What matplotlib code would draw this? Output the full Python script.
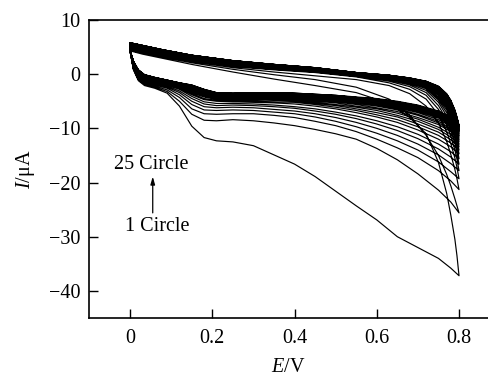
import matplotlib
matplotlib.use("Agg")
import matplotlib.pyplot as plt

plt.rcParams['font.family'] = ['Liberation Serif', 'DejaVu Serif']
plt.rcParams['mathtext.fontset'] = 'custom'
plt.rcParams['mathtext.rm'] = 'Liberation Serif'
plt.rcParams['mathtext.it'] = 'Liberation Serif:italic'

# potential grids (V)
E_fwd = [0.000, 0.008, 0.02, 0.035, 0.06, 0.09, 0.12, 0.15, 0.18, 0.21, 0.25, 0.30,
         0.35, 0.40, 0.45, 0.50, 0.55, 0.60, 0.65, 0.70, 0.75, 0.78, 0.80]
E_rev = [0.80, 0.795, 0.79, 0.78, 0.77, 0.75, 0.72, 0.68, 0.63, 0.55, 0.45, 0.35,
         0.25, 0.15, 0.08, 0.03, 0.0]

# forward-sweep currents (uA), cycles 1..25
fwd_c01 = [4.2, 0.8, -1.2, -2.1, -2.6, -3.5, -5.9, -9.6, -11.7, -12.3, -12.5, -13.2, -14.9, -16.6, -18.9, -21.6, -24.3, -26.9, -30.0, -32.0, -34.0, -35.8, -37.2]
fwd_c02 = [4.2, 0.9, -1.0, -1.9, -2.4, -3.2, -5.0, -7.4, -8.5, -8.6, -8.4, -8.6, -9.0, -9.5, -10.2, -11.0, -12.0, -13.7, -15.8, -18.4, -21.4, -23.6, -25.6]
fwd_c03 = [4.2, 1.0, -0.8, -1.7, -2.2, -2.9, -4.3, -6.4, -7.3, -7.4, -7.3, -7.3, -7.6, -8.0, -8.7, -9.5, -10.6, -12.0, -13.6, -15.4, -17.8, -19.7, -21.3]
fwd_c04 = [4.2, 1.1, -0.7, -1.5, -2.0, -2.6, -3.8, -5.6, -6.6, -6.7, -6.6, -6.7, -7.0, -7.3, -7.9, -8.7, -9.7, -10.9, -12.3, -14.0, -16.2, -18.0, -19.3]
fwd_c05 = [4.2, 1.2, -0.6, -1.4, -1.8, -2.4, -3.4, -5.0, -6.0, -6.2, -6.1, -6.2, -6.5, -6.8, -7.3, -8.0, -8.9, -10.0, -11.3, -12.9, -14.9, -16.5, -17.8]
fwd_c06 = [4.2, 1.3, -0.5, -1.3, -1.7, -2.2, -3.1, -4.5, -5.5, -5.8, -5.7, -5.8, -6.0, -6.3, -6.8, -7.4, -8.2, -9.2, -10.4, -11.9, -13.8, -15.3, -16.6]
fwd_c07 = [4.2, 1.4, -0.4, -1.2, -1.6, -2.0, -2.8, -4.1, -5.1, -5.4, -5.4, -5.5, -5.7, -6.0, -6.4, -7.0, -7.7, -8.6, -9.7, -11.1, -12.9, -14.3, -15.6]
fwd_c08 = [4.2, 1.5, -0.3, -1.1, -1.5, -1.9, -2.6, -3.8, -4.7, -5.0, -5.1, -5.2, -5.3, -5.5, -5.9, -6.4, -7.1, -7.9, -8.9, -10.3, -12.0, -13.4, -14.7]
fwd_c09 = [4.2, 1.6, -0.2, -1.0, -1.4, -1.8, -2.5, -3.6, -4.5, -4.8, -4.9, -5.0, -5.1, -5.2, -5.6, -6.1, -6.7, -7.5, -8.4, -9.7, -11.3, -12.7, -14.0]
fwd_c10 = [4.3, 1.7, 0.0, -0.9, -1.3, -1.7, -2.4, -3.4, -4.2, -4.6, -4.7, -4.8, -4.8, -5.0, -5.4, -5.8, -6.4, -7.1, -7.9, -9.2, -10.7, -12.1, -13.4]
fwd_c11 = [4.3, 1.8, 0.1, -0.8, -1.2, -1.6, -2.3, -3.2, -4.1, -4.5, -4.6, -4.6, -4.7, -4.8, -5.2, -5.6, -6.1, -6.7, -7.6, -8.7, -10.2, -11.6, -12.9]
fwd_c12 = [4.3, 1.9, 0.2, -0.7, -1.1, -1.6, -2.2, -3.0, -3.9, -4.3, -4.4, -4.4, -4.5, -4.6, -5.0, -5.3, -5.9, -6.4, -7.2, -8.3, -9.8, -11.1, -12.4]
fwd_c13 = [4.3, 2.0, 0.3, -0.6, -1.0, -1.5, -2.1, -2.9, -3.7, -4.2, -4.3, -4.3, -4.3, -4.5, -4.8, -5.1, -5.6, -6.2, -6.9, -8.0, -9.3, -10.6, -12.0]
fwd_c14 = [4.3, 2.0, 0.3, -0.5, -1.0, -1.4, -2.0, -2.8, -3.6, -4.1, -4.2, -4.2, -4.2, -4.3, -4.6, -5.0, -5.4, -5.9, -6.6, -7.6, -9.0, -10.3, -11.6]
fwd_c15 = [4.3, 2.1, 0.4, -0.5, -0.9, -1.4, -2.0, -2.6, -3.5, -4.0, -4.1, -4.0, -4.1, -4.2, -4.5, -4.8, -5.2, -5.7, -6.4, -7.4, -8.7, -10.0, -11.3]
fwd_c16 = [4.3, 2.1, 0.5, -0.4, -0.9, -1.3, -1.9, -2.5, -3.4, -3.9, -4.0, -3.9, -4.0, -4.1, -4.4, -4.7, -5.1, -5.5, -6.2, -7.1, -8.4, -9.6, -11.0]
fwd_c17 = [4.4, 2.2, 0.5, -0.4, -0.8, -1.3, -1.9, -2.5, -3.3, -3.8, -3.9, -3.9, -3.9, -4.0, -4.3, -4.5, -4.9, -5.3, -6.0, -6.9, -8.1, -9.4, -10.7]
fwd_c18 = [4.4, 2.2, 0.6, -0.3, -0.8, -1.3, -1.8, -2.4, -3.2, -3.7, -3.8, -3.8, -3.8, -3.9, -4.2, -4.4, -4.8, -5.2, -5.8, -6.7, -7.9, -9.1, -10.5]
fwd_c19 = [4.4, 2.2, 0.6, -0.3, -0.8, -1.2, -1.8, -2.3, -3.1, -3.7, -3.8, -3.7, -3.7, -3.8, -4.1, -4.3, -4.7, -5.1, -5.7, -6.5, -7.7, -8.9, -10.3]
fwd_c20 = [4.4, 2.3, 0.7, -0.2, -0.7, -1.2, -1.7, -2.2, -3.0, -3.6, -3.7, -3.6, -3.6, -3.8, -4.0, -4.2, -4.6, -4.9, -5.5, -6.3, -7.5, -8.7, -10.1]
fwd_c21 = [4.4, 2.3, 0.7, -0.2, -0.7, -1.2, -1.7, -2.2, -3.0, -3.5, -3.6, -3.6, -3.6, -3.7, -3.9, -4.1, -4.5, -4.8, -5.4, -6.1, -7.3, -8.5, -9.9]
fwd_c22 = [4.4, 2.3, 0.7, -0.2, -0.7, -1.1, -1.7, -2.1, -2.9, -3.5, -3.6, -3.5, -3.5, -3.6, -3.8, -4.0, -4.4, -4.7, -5.2, -6.0, -7.1, -8.3, -9.7]
fwd_c23 = [4.4, 2.4, 0.8, -0.1, -0.6, -1.1, -1.6, -2.1, -2.9, -3.5, -3.6, -3.5, -3.5, -3.6, -3.8, -4.0, -4.3, -4.6, -5.2, -5.9, -7.0, -8.2, -9.6]
fwd_c24 = [4.4, 2.4, 0.8, -0.1, -0.6, -1.1, -1.6, -2.0, -2.8, -3.4, -3.5, -3.4, -3.4, -3.5, -3.7, -3.9, -4.3, -4.6, -5.1, -5.8, -6.9, -8.1, -9.5]
fwd_c25 = [4.4, 2.4, 0.8, -0.1, -0.6, -1.1, -1.6, -2.0, -2.8, -3.4, -3.5, -3.4, -3.4, -3.5, -3.7, -3.9, -4.2, -4.5, -5.0, -5.7, -6.8, -8.0, -9.4]

# reverse-sweep currents (uA), cycles 1..25
rev_c01 = [-37.2, -33.5, -30.5, -26.0, -22.0, -16.3, -11.0, -8.0, -5.4, -3.4, -2.1, -0.9, 0.4, 1.8, 2.9, 3.7, 4.3]
rev_c02 = [-25.6, -24.3, -23.0, -20.6, -18.5, -15.0, -11.3, -7.6, -4.6, -2.4, -1.0, -0.1, 0.9, 2.1, 3.1, 3.9, 4.4]
rev_c03 = [-21.3, -19.3, -17.6, -14.8, -12.4, -9.0, -5.9, -3.6, -2.1, -1.0, -0.3, 0.4, 1.2, 2.3, 3.2, 4.0, 4.5]
rev_c04 = [-19.3, -17.2, -15.5, -12.8, -10.6, -7.5, -4.6, -2.8, -1.6, -0.5, 0.3, 0.8, 1.4, 2.4, 3.3, 4.1, 4.6]
rev_c05 = [-17.8, -15.7, -14.0, -11.4, -9.3, -6.5, -3.9, -2.3, -1.3, -0.4, 0.4, 0.9, 1.5, 2.5, 3.4, 4.2, 4.7]
rev_c06 = [-16.6, -14.5, -12.8, -10.3, -8.4, -5.8, -3.4, -2.0, -1.1, -0.3, 0.5, 1.0, 1.6, 2.6, 3.5, 4.3, 4.8]
rev_c07 = [-15.6, -13.5, -11.8, -9.5, -7.7, -5.2, -3.0, -1.8, -1.0, -0.2, 0.5, 1.1, 1.7, 2.7, 3.6, 4.4, 4.9]
rev_c08 = [-14.7, -12.7, -11.0, -8.8, -7.1, -4.8, -2.7, -1.6, -0.9, -0.1, 0.6, 1.1, 1.8, 2.8, 3.7, 4.5, 5.0]
rev_c09 = [-14.0, -12.1, -10.4, -8.3, -6.6, -4.5, -2.5, -1.5, -0.8, -0.1, 0.7, 1.2, 1.9, 2.9, 3.8, 4.6, 5.1]
rev_c10 = [-13.4, -11.5, -9.9, -7.8, -6.2, -4.2, -2.4, -1.4, -0.7, 0.0, 0.8, 1.3, 2.0, 3.0, 3.9, 4.7, 5.2]
rev_c11 = [-12.9, -11.1, -9.5, -7.4, -5.9, -3.9, -2.2, -1.3, -0.7, 0.0, 0.8, 1.3, 2.0, 3.0, 4.0, 4.8, 5.3]
rev_c12 = [-12.4, -10.6, -9.1, -7.1, -5.6, -3.7, -2.1, -1.2, -0.6, 0.1, 0.9, 1.4, 2.1, 3.1, 4.0, 4.8, 5.3]
rev_c13 = [-12.0, -10.3, -8.8, -6.8, -5.3, -3.5, -2.0, -1.1, -0.5, 0.1, 0.9, 1.5, 2.2, 3.2, 4.1, 4.9, 5.4]
rev_c14 = [-11.6, -9.9, -8.4, -6.5, -5.1, -3.3, -1.9, -1.1, -0.5, 0.1, 0.9, 1.5, 2.2, 3.2, 4.2, 5.0, 5.5]
rev_c15 = [-11.3, -9.6, -8.2, -6.2, -4.9, -3.1, -1.8, -1.0, -0.5, 0.2, 1.0, 1.5, 2.2, 3.2, 4.2, 5.0, 5.5]
rev_c16 = [-11.0, -9.3, -7.9, -6.0, -4.7, -3.0, -1.7, -1.0, -0.4, 0.2, 1.0, 1.6, 2.3, 3.3, 4.3, 5.1, 5.6]
rev_c17 = [-10.7, -9.1, -7.7, -5.8, -4.5, -2.9, -1.7, -0.9, -0.4, 0.2, 1.1, 1.6, 2.3, 3.3, 4.3, 5.1, 5.6]
rev_c18 = [-10.5, -8.9, -7.5, -5.6, -4.3, -2.7, -1.6, -0.9, -0.3, 0.2, 1.1, 1.7, 2.4, 3.4, 4.3, 5.1, 5.6]
rev_c19 = [-10.3, -8.7, -7.3, -5.5, -4.2, -2.6, -1.5, -0.9, -0.3, 0.2, 1.1, 1.7, 2.4, 3.4, 4.4, 5.2, 5.7]
rev_c20 = [-10.1, -8.5, -7.2, -5.3, -4.1, -2.5, -1.5, -0.8, -0.3, 0.2, 1.1, 1.7, 2.4, 3.4, 4.4, 5.2, 5.7]
rev_c21 = [-9.9, -8.3, -7.0, -5.2, -3.9, -2.4, -1.4, -0.8, -0.3, 0.3, 1.1, 1.7, 2.4, 3.4, 4.4, 5.2, 5.7]
rev_c22 = [-9.7, -8.2, -6.9, -5.0, -3.8, -2.4, -1.4, -0.8, -0.2, 0.3, 1.2, 1.8, 2.5, 3.5, 4.5, 5.3, 5.8]
rev_c23 = [-9.6, -8.1, -6.8, -5.0, -3.7, -2.3, -1.4, -0.7, -0.2, 0.3, 1.2, 1.8, 2.5, 3.5, 4.5, 5.3, 5.8]
rev_c24 = [-9.5, -8.0, -6.7, -4.9, -3.7, -2.3, -1.3, -0.7, -0.2, 0.3, 1.2, 1.8, 2.5, 3.5, 4.5, 5.3, 5.8]
rev_c25 = [-9.4, -7.9, -6.6, -4.8, -3.6, -2.2, -1.3, -0.7, -0.2, 0.3, 1.2, 1.8, 2.5, 3.5, 4.5, 5.3, 5.8]

fwd_sweeps = [fwd_c01, fwd_c02, fwd_c03, fwd_c04, fwd_c05, fwd_c06, fwd_c07, fwd_c08,
              fwd_c09, fwd_c10, fwd_c11, fwd_c12, fwd_c13, fwd_c14, fwd_c15, fwd_c16,
              fwd_c17, fwd_c18, fwd_c19, fwd_c20, fwd_c21, fwd_c22, fwd_c23, fwd_c24, fwd_c25]
rev_sweeps = [rev_c01, rev_c02, rev_c03, rev_c04, rev_c05, rev_c06, rev_c07, rev_c08,
              rev_c09, rev_c10, rev_c11, rev_c12, rev_c13, rev_c14, rev_c15, rev_c16,
              rev_c17, rev_c18, rev_c19, rev_c20, rev_c21, rev_c22, rev_c23, rev_c24, rev_c25]

x_ticks = [0, 0.2, 0.4, 0.6, 0.8]
x_tick_labels = ["0", "0.2", "0.4", "0.6", "0.8"]
y_ticks = [-40, -30, -20, -10, 0, 10]
y_tick_labels = ["\u221240", "\u221230", "\u221220", "\u221210", "0", "10"]

fig = plt.figure(figsize=(4.88, 3.76), dpi=100)
ax = fig.add_axes([0.1824, 0.1543, 0.8176, 0.7925])

E_all, I_all = [], []
for f, r in zip(fwd_sweeps, rev_sweeps):
    E_all += E_fwd + E_rev
    I_all += f + r
ax.plot(E_all, I_all, color='black', lw=0.85, solid_joinstyle='round')

ax.set_xlim(-0.1, 0.8705)
ax.set_ylim(-45, 10)
ax.set_xticks(x_ticks)
ax.set_xticklabels(x_tick_labels)
ax.set_yticks(y_ticks)
ax.set_yticklabels(y_tick_labels)
ax.tick_params(direction='in', length=6.5, width=1.0, labelsize=14.5)
ax.tick_params(axis='x', pad=8)
ax.tick_params(axis='y', pad=6)
for s in ['left', 'bottom', 'top']:
    ax.spines[s].set_linewidth(1.2)
ax.spines['right'].set_visible(False)

ax.set_xlabel("$E$/V", fontsize=14.5, labelpad=7)
ax.set_ylabel("$I$/\u03bcA", fontsize=14.5, labelpad=9)

ax.text(0.051, -16.7, "25 Circle", fontsize=14.5, ha='center', va='center')
ax.text(0.067, -28.1, "1 Circle", fontsize=14.5, ha='center', va='center')
ax.annotate("", xy=(0.055, -18.9), xytext=(0.055, -25.6),
            arrowprops=dict(arrowstyle='-|>,head_length=0.45,head_width=0.13',
                            color='black', lw=0.9, shrinkA=0, shrinkB=0))

fig.savefig("out.png", dpi=100)
